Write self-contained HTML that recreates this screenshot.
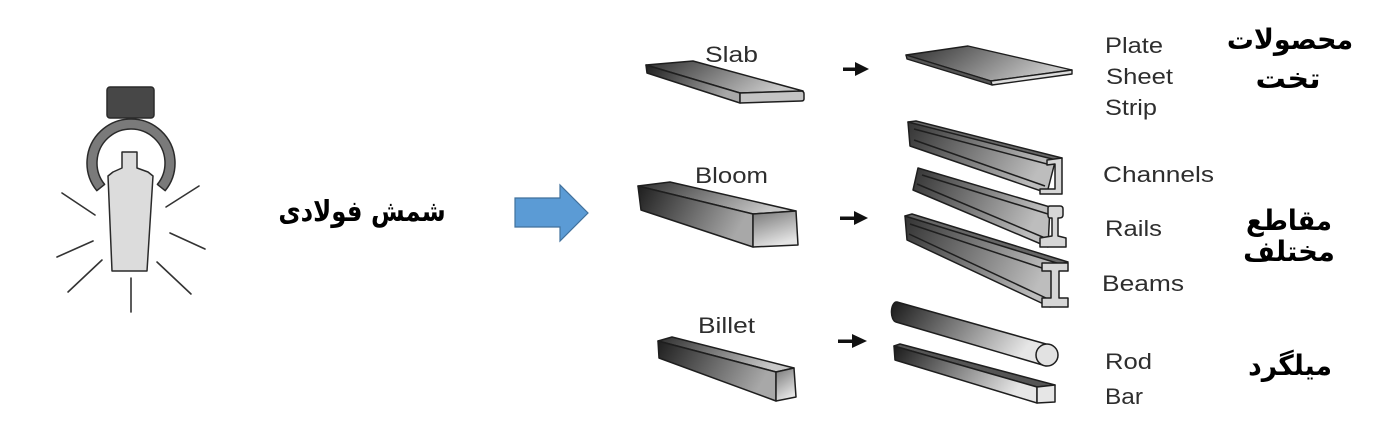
<!DOCTYPE html>
<html><head><meta charset="utf-8"><style>
html,body{margin:0;padding:0;background:#fff;}
svg{display:block;}
.en{font-family:"Liberation Sans",Arial,sans-serif;font-size:22px;fill:#2e2e2e;}
.fa{font-family:"DejaVu Sans","Liberation Sans",sans-serif;font-weight:bold;font-size:28px;fill:#000;}
</style></head><body>
<svg width="1386" height="422" viewBox="0 0 1386 422" xmlns="http://www.w3.org/2000/svg">
<defs>
<linearGradient id="gTop" x1="0" y1="0" x2="1" y2="0.3"><stop offset="0" stop-color="#2e2e2e"/><stop offset="1" stop-color="#c8c8c8"/></linearGradient>
<linearGradient id="gFront" x1="0" y1="0" x2="1" y2="0.3"><stop offset="0" stop-color="#1e1e1e"/><stop offset="1" stop-color="#a8a8a8"/></linearGradient>
<linearGradient id="gEnd" x1="0" y1="0" x2="0.4" y2="1"><stop offset="0" stop-color="#777"/><stop offset="1" stop-color="#e4e4e4"/></linearGradient>
<linearGradient id="gBeam" x1="0" y1="0" x2="1" y2="0.3"><stop offset="0" stop-color="#333"/><stop offset="1" stop-color="#bdbdbd"/></linearGradient>
<linearGradient id="gRod" x1="0" y1="0" x2="1" y2="0.3"><stop offset="0" stop-color="#1a1a1a"/><stop offset="1" stop-color="#e6e6e6"/></linearGradient>
</defs>

<!-- torch icon -->
<g stroke="#2a2a2a" stroke-width="1.5" stroke-linejoin="round">
<rect x="107" y="87" width="47" height="31" rx="3" fill="#474747"/>
<path d="M96.8,190.7 A44,44 0 1,1 165.2,190.7 L157.4,184.4 A34,34 0 1,0 104.6,184.4 Z" fill="#7a7a7a"/>
<path d="M122,152 L137,152 L137,168 L148,172 L153,176 L147,271 L112,271 L108,176 L113,172 L122,168 Z" fill="#dcdcdc"/>
</g>
<g stroke="#333" stroke-width="1.6" stroke-linecap="round">
<line x1="62" y1="193" x2="95" y2="215"/>
<line x1="57" y1="257" x2="93" y2="241"/>
<line x1="68" y1="292" x2="102" y2="260"/>
<line x1="131" y1="278" x2="131" y2="312"/>
<line x1="157" y1="262" x2="191" y2="294"/>
<line x1="170" y1="233" x2="205" y2="249"/>
<line x1="166" y1="207" x2="199" y2="186"/>
</g>

<g transform="translate(362,0) scale(0.84,1)">
<text class="fa" x="0" y="221" text-anchor="middle" direction="rtl" style="font-size:29px">شمش فولادی</text>
</g>

<polygon points="515,198 560,198 560,185 588,213 560,241 560,227 515,227" fill="#5b9bd5" stroke="#41719c" stroke-width="1.2"/>

<!-- Slab -->
<g stroke="#1e1e1e" stroke-width="1.5" stroke-linejoin="round">
<polygon points="646,65 693,61 803,91 740,93" fill="url(#gTop)"/>
<polygon points="646,65 740,93 740,103 647,73" fill="url(#gFront)"/>
<path d="M740,93 L801,91 Q804,91 804,94 L804,99 Q804,101 801,101 L740,103 Z" fill="#c4c4c4"/>
</g>
<text class="en" x="705" y="62" textLength="53" lengthAdjust="spacingAndGlyphs">Slab</text>

<!-- Bloom -->
<g stroke="#1e1e1e" stroke-width="1.5" stroke-linejoin="round">
<polygon points="638,186 670,182 796,211 753,214" fill="url(#gTop)"/>
<polygon points="638,186 753,214 753,247 641,210" fill="url(#gFront)"/>
<polygon points="753,214 796,211 798,245 753,247" fill="url(#gEnd)"/>
</g>
<text class="en" x="695" y="183" textLength="73" lengthAdjust="spacingAndGlyphs">Bloom</text>

<!-- Billet -->
<g stroke="#1e1e1e" stroke-width="1.5" stroke-linejoin="round">
<polygon points="658,341 672,337 794,368 776,372" fill="url(#gTop)"/>
<polygon points="658,341 776,372 776,401 659,358" fill="url(#gFront)"/>
<polygon points="776,372 794,368 796,397 776,401" fill="url(#gEnd)"/>
</g>
<text class="en" x="698" y="333" textLength="57" lengthAdjust="spacingAndGlyphs">Billet</text>

<!-- small arrows -->
<g fill="#111">
<rect x="843" y="67.5" width="14" height="3.5"/><polygon points="855,62 869,69 855,76"/>
<rect x="840" y="216.5" width="15" height="3.5"/><polygon points="854,211 868,218 854,225"/>
<rect x="838" y="339.5" width="15" height="3.5"/><polygon points="852,334 867,341 852,348"/>
</g>

<!-- Plate -->
<g stroke="#1e1e1e" stroke-width="1.4" stroke-linejoin="round">
<polygon points="906,55 968,46 1072,70 991,81" fill="url(#gTop)"/>
<polygon points="906,55 991,81 992,85 907,59" fill="#555"/>
<polygon points="991,81 1072,70 1072,74 992,85" fill="#ddd"/>
</g>

<!-- Beam 1 channel -->
<g stroke="#1e1e1e" stroke-width="1.5" stroke-linejoin="round">
<polygon points="908,122 1056,158 1047,193 910,146" fill="url(#gBeam)"/>
<polygon points="908,122 916,121 1062,158 1056,160" fill="#666"/>
<line x1="914" y1="129" x2="1047" y2="164" fill="none"/>
<line x1="914" y1="140" x2="1045" y2="186" fill="none"/>
<path d="M1047,160 L1062,158 L1062,194 L1040,194 L1040,189 L1055,189 L1055,164 L1047,165 Z" fill="#d6d6d6"/>
</g>

<!-- Beam 2 rail -->
<g stroke="#1e1e1e" stroke-width="1.5" stroke-linejoin="round">
<polygon points="918,168 1050,207 1048,247 913,190" fill="url(#gBeam)"/>
<line x1="922" y1="175" x2="1048" y2="214" fill="none"/>
<line x1="917" y1="184" x2="1045" y2="238" fill="none"/>
<path d="M1048,208 Q1048,206 1050,206 L1060,206 Q1063,206 1063,209 L1063,215 Q1063,218 1059,218 L1058,218 L1058,236 L1066,238 L1066,247 L1040,247 L1040,238 L1052,236 L1052,218 L1050,218 Q1048,218 1048,215 Z" fill="#d6d6d6"/>
</g>

<!-- Beam 3 I-beam -->
<g stroke="#1e1e1e" stroke-width="1.5" stroke-linejoin="round">
<polygon points="905,216 1060,263 1050,307 907,240" fill="url(#gBeam)"/>
<polygon points="905,216 912,214 1068,262 1060,264" fill="#666"/>
<line x1="910" y1="224" x2="1051" y2="271" fill="none"/>
<line x1="909" y1="234" x2="1046" y2="298" fill="none"/>
<path d="M1042,263 L1068,263 L1068,271 L1059,271 L1059,298 L1068,298 L1068,307 L1042,307 L1042,298 L1051,298 L1051,271 L1042,271 Z" fill="#d6d6d6"/>
</g>

<!-- Rod -->
<g stroke="#1e1e1e" stroke-width="1.5" stroke-linejoin="round">
<path d="M897,302 L1046,344 L1046,366 L896,322 A5,10 0 0 1 897,302 Z" fill="url(#gRod)"/>
<circle cx="1047" cy="355" r="11" fill="#e2e2e2"/>
</g>

<!-- Bar -->
<g stroke="#1e1e1e" stroke-width="1.5" stroke-linejoin="round">
<polygon points="894,346 900,344 1055,385 1037,387" fill="#555"/>
<polygon points="894,346 1037,387 1037,403 895,360" fill="url(#gRod)"/>
<polygon points="1037,387 1055,385 1055,402 1037,403" fill="#e6e6e6"/>
</g>

<!-- right labels -->
<text class="en" x="1105" y="53" textLength="58" lengthAdjust="spacingAndGlyphs">Plate</text>
<text class="en" x="1106" y="84" textLength="67" lengthAdjust="spacingAndGlyphs">Sheet</text>
<text class="en" x="1105" y="115" textLength="52" lengthAdjust="spacingAndGlyphs">Strip</text>
<text class="en" x="1103" y="182" textLength="111" lengthAdjust="spacingAndGlyphs">Channels</text>
<text class="en" x="1105" y="236" textLength="57" lengthAdjust="spacingAndGlyphs">Rails</text>
<text class="en" x="1102" y="291" textLength="82" lengthAdjust="spacingAndGlyphs">Beams</text>
<text class="en" x="1105" y="369" textLength="47" lengthAdjust="spacingAndGlyphs">Rod</text>
<text class="en" x="1105" y="404" textLength="38" lengthAdjust="spacingAndGlyphs">Bar</text>

<g transform="translate(1290,0) scale(0.96,1)"><text class="fa" x="0" y="49" text-anchor="middle" direction="rtl">محصولات</text></g>
<g transform="translate(1288,0) scale(1.08,1)"><text class="fa" x="0" y="88" text-anchor="middle" direction="rtl">تخت</text></g>
<g transform="translate(1289,0) scale(0.92,1)"><text class="fa" x="0" y="230" text-anchor="middle" direction="rtl">مقاطع</text></g>
<g transform="translate(1289,0) scale(0.98,1)"><text class="fa" x="0" y="261" text-anchor="middle" direction="rtl">مختلف</text></g>
<g transform="translate(1290,0) scale(0.95,1)"><text class="fa" x="0" y="375" text-anchor="middle" direction="rtl">میلگرد</text></g>
</svg>
</body></html>
